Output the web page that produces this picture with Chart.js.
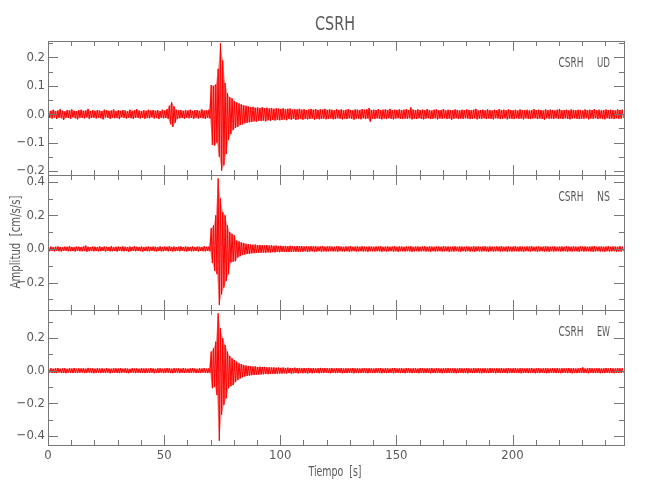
<!DOCTYPE html>
<html>
<head>
<meta charset="utf-8">
<script src="https://cdn.jsdelivr.net/npm/chart.js@4.4.1/dist/chart.umd.min.js"></script>
<style>
body { margin: 0; background: #fff; }
#wrap { position: relative; width: 650px; height: 500px; }
#wrap canvas { position: absolute; left: 0; top: 0; }
</style>
</head>
<body>
<div id="wrap">
<canvas id="chart0" width="650" height="500"></canvas>
<canvas id="chart1" width="650" height="500"></canvas>
<canvas id="chart2" width="650" height="500"></canvas>
</div>
<script>
const station = "CSRH";
const components = ["UD", "NS", "EW"];
const xMax = 248;
const xTickValues = [0, 50, 100, 150, 200];

// peak up / peak down of each 1 s slice of the trace
const udMax = [
  .014,.012,.016,.011,.013,.018,.012,.010,.015,.013,.017,.012,.011,.014,.016,.012,.013,.019,.011,.014,
  .012,.015,.013,.011,.016,.014,.012,.013,.017,.011,.014,.012,.015,.013,.010,.016,.012,.014,.018,.013,
  .011,.014,.012,.016,.013,.015,.012,.014,.011,.016,.013,.018,.030,.042,.028,.016,.013,.015,.012,.014,
  .013,.016,.012,.014,.015,.012,.017,.013,.014,.016,.103,.100,.105,.160,.250,.190,.110,.074,.060,.056,
  .046,.042,.038,.034,.031,.030,.027,.025,.026,.023,.024,.022,.025,.021,.023,.020,.022,.019,.021,.020,
  .018,.021,.017,.019,.020,.016,.018,.017,.019,.016,.018,.015,.017,.019,.016,.018,.015,.017,.016,.019,
  .015,.017,.016,.014,.018,.015,.017,.013,.016,.018,.015,.014,.017,.016,.015,.018,.016,.017,.022,.014,
  .016,.015,.018,.014,.016,.017,.015,.019,.014,.016,.015,.017,.014,.016,.018,.015,.024,.016,.014,.017,
  .015,.016,.014,.018,.015,.013,.016,.017,.014,.015,.018,.013,.016,.015,.014,.017,.015,.013,.016,.014,
  .017,.015,.014,.016,.019,.013,.015,.016,.014,.017,.015,.013,.016,.014,.018,.015,.016,.014,.017,.015,
  .014,.016,.013,.017,.015,.014,.016,.013,.015,.018,.014,.016,.015,.013,.017,.014,.016,.015,.013,.016,
  .018,.014,.015,.016,.013,.017,.015,.014,.016,.015,.013,.017,.014,.016,.015,.018,.014,.016,.013,.015,
  .017,.014,.016,.015,.013,.017,.015,.016
];
const udMin = [
  -.013,-.015,-.011,-.017,-.012,-.014,-.020,-.012,-.013,-.016,-.011,-.014,-.018,-.012,-.013,-.015,-.011,-.016,-.013,-.012,
  -.015,-.012,-.014,-.018,-.011,-.013,-.016,-.012,-.014,-.013,-.017,-.011,-.013,-.015,-.012,-.014,-.016,-.012,-.013,-.015,
  -.012,-.016,-.013,-.014,-.011,-.015,-.013,-.017,-.012,-.014,-.013,-.016,-.035,-.045,-.030,-.017,-.014,-.013,-.016,-.012,
  -.014,-.013,-.016,-.012,-.015,-.013,-.014,-.016,-.012,-.015,-.108,-.110,-.100,-.150,-.199,-.180,-.140,-.090,-.070,-.055,
  -.048,-.044,-.038,-.036,-.032,-.030,-.028,-.027,-.025,-.026,-.023,-.024,-.022,-.025,-.021,-.023,-.020,-.022,-.019,-.021,
  -.020,-.018,-.021,-.017,-.019,-.016,-.020,-.018,-.017,-.019,-.016,-.018,-.017,-.015,-.019,-.016,-.018,-.017,-.015,-.018,
  -.016,-.015,-.018,-.017,-.014,-.016,-.018,-.015,-.017,-.014,-.016,-.019,-.015,-.016,-.018,-.014,-.017,-.015,-.026,-.016,
  -.017,-.014,-.016,-.018,-.015,-.017,-.014,-.016,-.018,-.015,-.014,-.016,-.017,-.015,-.016,-.014,-.018,-.015,-.017,-.014,
  -.016,-.018,-.015,-.014,-.017,-.016,-.014,-.018,-.015,-.016,-.014,-.017,-.015,-.019,-.016,-.014,-.017,-.015,-.016,-.014,
  -.015,-.017,-.016,-.014,-.018,-.015,-.016,-.014,-.017,-.015,-.016,-.018,-.014,-.015,-.017,-.016,-.014,-.018,-.015,-.016,
  -.017,-.014,-.016,-.015,-.018,-.014,-.016,-.017,-.015,-.014,-.017,-.015,-.016,-.019,-.014,-.016,-.015,-.017,-.014,-.016,
  -.015,-.017,-.014,-.016,-.018,-.015,-.014,-.016,-.017,-.015,-.016,-.014,-.018,-.015,-.016,-.014,-.017,-.015,-.016,-.018,
  -.014,-.016,-.015,-.017,-.014,-.016,-.015,-.013
];
const nsMax = [
  .012,.014,.011,.013,.015,.012,.010,.014,.013,.016,.012,.011,.014,.013,.012,.015,.020,.013,.011,.014,
  .013,.012,.015,.011,.014,.013,.012,.016,.011,.013,.014,.012,.015,.013,.011,.014,.012,.016,.013,.012,
  .014,.011,.013,.015,.012,.014,.013,.011,.015,.012,.014,.013,.016,.012,.014,.011,.013,.015,.012,.014,
  .013,.012,.015,.011,.014,.013,.012,.016,.013,.014,.124,.140,.200,.420,.300,.220,.200,.140,.100,.090,
  .080,.050,.045,.038,.035,.031,.028,.027,.025,.026,.023,.024,.022,.021,.023,.020,.021,.019,.020,.018,
  .019,.017,.018,.016,.019,.017,.015,.018,.016,.017,.015,.016,.014,.017,.015,.016,.014,.015,.017,.014,
  .015,.016,.014,.013,.015,.016,.014,.013,.015,.014,.016,.013,.014,.015,.013,.016,.014,.013,.015,.014,
  .013,.015,.014,.016,.013,.014,.015,.013,.014,.016,.013,.015,.014,.013,.015,.014,.016,.013,.014,.015,
  .013,.014,.016,.013,.015,.014,.013,.015,.014,.013,.016,.014,.015,.013,.014,.016,.013,.015,.014,.013,
  .015,.014,.013,.016,.014,.015,.013,.014,.016,.013,.015,.014,.013,.015,.014,.016,.013,.014,.015,.013,
  .014,.016,.013,.015,.014,.013,.015,.014,.016,.013,.014,.015,.013,.014,.016,.015,.013,.014,.015,.013,
  .014,.015,.013,.016,.014,.013,.015,.014,.013,.016,.014,.015,.013,.014,.015,.017,.013,.014,.015,.013,
  .014,.016,.013,.015,.014,.013,.016,.014
];
const nsMin = [
  -.013,-.011,-.014,-.012,-.013,-.015,-.012,-.011,-.014,-.013,-.012,-.015,-.011,-.013,-.014,-.012,-.016,-.013,-.012,-.014,
  -.012,-.014,-.013,-.011,-.015,-.012,-.014,-.013,-.012,-.015,-.011,-.013,-.014,-.012,-.016,-.013,-.011,-.014,-.012,-.013,
  -.015,-.012,-.013,-.014,-.011,-.013,-.015,-.012,-.014,-.013,-.011,-.014,-.012,-.015,-.013,-.012,-.014,-.011,-.013,-.015,
  -.012,-.014,-.013,-.011,-.015,-.012,-.013,-.014,-.012,-.013,-.083,-.130,-.150,-.334,-.270,-.230,-.190,-.150,-.080,-.075,
  -.073,-.050,-.043,-.036,-.033,-.030,-.028,-.026,-.025,-.024,-.023,-.022,-.021,-.022,-.020,-.021,-.019,-.020,-.018,-.019,
  -.017,-.018,-.016,-.018,-.017,-.015,-.017,-.016,-.015,-.017,-.014,-.016,-.015,-.014,-.016,-.015,-.013,-.016,-.014,-.015,
  -.014,-.013,-.015,-.014,-.016,-.013,-.014,-.015,-.013,-.016,-.014,-.013,-.015,-.014,-.013,-.015,-.014,-.016,-.013,-.014,
  -.015,-.013,-.014,-.016,-.013,-.015,-.014,-.013,-.015,-.014,-.016,-.013,-.014,-.015,-.013,-.014,-.016,-.014,-.013,-.015,
  -.014,-.013,-.015,-.014,-.016,-.013,-.015,-.014,-.013,-.015,-.014,-.013,-.016,-.014,-.015,-.013,-.014,-.016,-.013,-.015,
  -.013,-.015,-.014,-.016,-.013,-.014,-.015,-.013,-.014,-.016,-.013,-.015,-.014,-.013,-.015,-.014,-.013,-.016,-.014,-.015,
  -.014,-.013,-.015,-.014,-.016,-.013,-.014,-.015,-.013,-.014,-.016,-.014,-.013,-.015,-.014,-.016,-.013,-.015,-.014,-.013,
  -.015,-.014,-.013,-.016,-.014,-.015,-.013,-.014,-.016,-.013,-.015,-.014,-.013,-.015,-.016,-.014,-.013,-.015,-.014,-.016,
  -.013,-.015,-.014,-.013,-.016,-.014,-.015,-.013
];
const ewMax = [
  .013,.015,.012,.014,.016,.012,.013,.015,.011,.014,.013,.016,.012,.014,.013,.015,.012,.017,.013,.014,
  .012,.015,.013,.014,.011,.016,.013,.012,.015,.014,.013,.016,.012,.014,.013,.011,.015,.013,.014,.012,
  .015,.013,.014,.012,.016,.013,.011,.014,.015,.012,.013,.016,.014,.012,.015,.013,.014,.012,.016,.013,
  .012,.014,.015,.013,.011,.014,.013,.016,.012,.014,.117,.137,.178,.352,.260,.200,.157,.117,.090,.076,
  .065,.055,.045,.040,.035,.031,.029,.027,.025,.026,.023,.024,.022,.023,.020,.021,.019,.020,.018,.019,
  .017,.019,.016,.018,.017,.015,.018,.016,.017,.015,.016,.014,.017,.015,.016,.014,.015,.017,.014,.016,
  .015,.014,.016,.013,.015,.014,.016,.013,.015,.014,.013,.016,.014,.015,.013,.014,.016,.013,.015,.014,
  .013,.015,.014,.016,.013,.015,.014,.013,.015,.016,.013,.014,.015,.013,.016,.014,.013,.015,.014,.013,
  .016,.014,.013,.015,.014,.016,.013,.015,.014,.013,.015,.014,.016,.013,.014,.015,.013,.016,.014,.013,
  .015,.014,.013,.016,.014,.015,.013,.014,.015,.013,.016,.014,.013,.015,.014,.016,.013,.014,.015,.013,
  .014,.016,.013,.015,.014,.013,.015,.014,.016,.013,.014,.015,.013,.014,.016,.014,.013,.015,.014,.016,
  .013,.015,.014,.013,.016,.014,.015,.013,.014,.015,.020,.013,.014,.016,.015,.013,.014,.015,.013,.014,
  .016,.013,.015,.014,.013,.016,.014,.015
];
const ewMin = [
  -.012,-.014,-.013,-.015,-.011,-.014,-.013,-.016,-.012,-.013,-.015,-.012,-.014,-.013,-.011,-.015,-.013,-.012,-.014,-.016,
  -.013,-.012,-.015,-.013,-.014,-.012,-.016,-.013,-.012,-.014,-.015,-.013,-.012,-.014,-.016,-.013,-.012,-.015,-.013,-.014,
  -.012,-.015,-.013,-.014,-.012,-.016,-.013,-.014,-.012,-.015,-.013,-.012,-.014,-.016,-.013,-.012,-.015,-.013,-.014,-.012,
  -.014,-.013,-.012,-.015,-.013,-.014,-.012,-.013,-.015,-.013,-.108,-.100,-.150,-.430,-.270,-.210,-.170,-.108,-.095,-.088,
  -.070,-.057,-.048,-.040,-.036,-.032,-.030,-.028,-.026,-.025,-.024,-.023,-.022,-.021,-.022,-.020,-.019,-.020,-.018,-.017,
  -.018,-.016,-.017,-.015,-.018,-.016,-.015,-.017,-.014,-.016,-.015,-.017,-.014,-.016,-.015,-.013,-.016,-.014,-.015,-.013,
  -.014,-.016,-.013,-.015,-.014,-.013,-.016,-.014,-.015,-.013,-.014,-.016,-.013,-.015,-.014,-.013,-.015,-.016,-.013,-.014,
  -.015,-.013,-.014,-.016,-.013,-.015,-.014,-.013,-.016,-.014,-.013,-.015,-.014,-.016,-.013,-.014,-.015,-.013,-.014,-.016,
  -.013,-.015,-.014,-.013,-.016,-.014,-.015,-.013,-.014,-.016,-.013,-.015,-.014,-.013,-.015,-.016,-.014,-.013,-.015,-.014,
  -.016,-.013,-.015,-.014,-.013,-.015,-.016,-.014,-.013,-.015,-.014,-.013,-.016,-.014,-.015,-.013,-.014,-.016,-.013,-.015,
  -.014,-.013,-.015,-.016,-.014,-.013,-.015,-.014,-.013,-.016,-.014,-.015,-.013,-.014,-.016,-.015,-.013,-.014,-.015,-.013,
  -.016,-.014,-.013,-.015,-.014,-.016,-.013,-.015,-.014,-.013,-.015,-.014,-.016,-.013,-.015,-.014,-.013,-.016,-.014,-.015,
  -.013,-.015,-.014,-.016,-.013,-.015,-.014,-.013
];

const yLimits = [[-0.214, 0.258], [-0.363, 0.44], [-0.456, 0.372]];
const yMajor = [0.1, 0.2, 0.2];
const yMinor = [0.05, 0.1, 0.1];
const xMajor = 50, xMinor = 10;

const FONT = "'Liberation Sans Narrow', 'DejaVu Sans Condensed', sans-serif";
const GREY = "#5a5a5a";
Chart.defaults.font.family = FONT;
Chart.defaults.color = GREY;

// panel box top/bottom in page pixels
const panelTop = [41, 175, 310];
const panelBottom = [175, 310, 445];

function trace(hi, lo) {
  let pts = [];
  for (let i = 0; i < hi.length; i++) {
    pts.push({ x: i + 0.25, y: hi[i] });
    pts.push({ x: i + 0.75, y: lo[i] });
  }
  return pts;
}

function edge(arr, off) {
  return arr.map((v, i) => ({ x: i + off, y: v }));
}

function fmtY(v) {
  let r = Math.round(v * 10) / 10;
  return (r < 0 ? "\u2212" : "") + Math.abs(r).toFixed(1);
}

// box, inward ticks and free text
const frame = {
  id: "frame",
  afterDatasetsDraw(chart, args, opts) {
    const c = chart.ctx, a = chart.chartArea;
    const xs = chart.scales.x, ys = chart.scales.y;
    c.save();
    c.strokeStyle = "#777";
    c.lineWidth = 1;
    c.strokeRect(a.left + 0.5, a.top + 0.5, a.right - a.left, a.bottom - a.top);
    c.beginPath();
    for (let v = 0; v <= xs.max + 1e-9; v += xMinor) {
      let px = Math.round(xs.getPixelForValue(v)) + 0.5;
      let len = v % xMajor === 0 ? 10 : 5;
      c.moveTo(px, a.top); c.lineTo(px, a.top + len);
      c.moveTo(px, a.bottom); c.lineTo(px, a.bottom - len);
    }
    let first = Math.ceil(ys.min / opts.minor - 1e-6);
    let last = Math.floor(ys.max / opts.minor + 1e-6);
    for (let k = first; k <= last; k++) {
      let v = k * opts.minor;
      let py = Math.round(ys.getPixelForValue(v)) + 0.5;
      let q = v / opts.major;
      let len = Math.abs(q - Math.round(q)) < 1e-6 ? 10 : 5;
      c.moveTo(a.left, py); c.lineTo(a.left + len, py);
      c.moveTo(a.right, py); c.lineTo(a.right - len, py);
    }
    c.stroke();
    c.fillStyle = GREY;
    c.textBaseline = "alphabetic";
    for (const t of opts.texts) {
      c.save();
      c.font = t.size + "px " + FONT;
      c.textAlign = t.align || "left";
      c.translate(t.x, t.y);
      if (t.rotate) c.rotate(t.rotate);
      c.fillText(t.text, 0, 0, t.width);
      c.restore();
    }
    c.restore();
  }
};

function makePanel(i, hi, lo, texts) {
  const last = i === 2;
  const ctx = document.getElementById("chart" + i).getContext("2d");
  return new Chart(ctx, {
    type: "line",
    data: {
      datasets: [
        {
          data: trace(hi, lo),
          borderColor: "#ff0000",
          borderWidth: 1,
          pointRadius: 0,
          fill: false,
          tension: 0
        },
        {
          // upper envelope, shaded down to the lower one
          data: edge(hi, 0.25),
          borderWidth: 0,
          pointRadius: 0,
          backgroundColor: "rgba(255, 0, 0, 0.45)",
          fill: "+1"
        },
        {
          data: edge(lo, 0.75),
          borderWidth: 0,
          pointRadius: 0,
          fill: false
        }
      ]
    },
    options: {
      responsive: false,
      animation: false,
      events: [],
      layout: {
        autoPadding: false,
        padding: { left: 0, right: 26, top: panelTop[i], bottom: last ? 500 - panelBottom[i] - 22 : 500 - panelBottom[i] }
      },
      scales: {
        x: {
          type: "linear",
          min: 0,
          max: xMax,
          display: last,
          grid: { display: false, drawTicks: false },
          border: { display: false },
          ticks: {
            padding: 3,
            font: { size: 13 },
            callback: v => String(Math.round(v))
          },
          afterBuildTicks: s => { s.ticks = xTickValues.map(v => ({ value: v })); },
          afterFit: s => { s.height = last ? 22 : 0; }
        },
        y: {
          min: yLimits[i][0],
          max: yLimits[i][1],
          grid: { display: false, drawTicks: false },
          border: { display: false },
          ticks: {
            stepSize: yMajor[i],
            includeBounds: false,
            padding: 3,
            font: { size: 13 },
            callback: fmtY
          },
          afterFit: s => { s.width = 48; }
        }
      },
      plugins: {
        legend: { display: false },
        tooltip: { enabled: false },
        frame: { major: yMajor[i], minor: yMinor[i], texts: texts }
      }
    },
    plugins: [frame]
  });
}

function panelLabel(i) {
  let base = panelTop[i] + 25.5;
  return [
    { text: station, x: 558.5, y: base, size: 14, width: 25 },
    { text: components[i], x: 597, y: base, size: 14, width: 13 }
  ];
}

let chart0 = makePanel(0, udMax, udMin, panelLabel(0).concat([
  { text: station, x: 335, y: 29.5, size: 20, width: 40, align: "center" }
]));
let chart1 = makePanel(1, nsMax, nsMin, panelLabel(1).concat([
  { text: "Amplitud  [cm/s/s]", x: 19.5, y: 242, size: 14, width: 93, align: "center", rotate: -Math.PI / 2 }
]));
let chart2 = makePanel(2, ewMax, ewMin, panelLabel(2).concat([
  { text: "Tiempo  [s]", x: 335, y: 476, size: 14, width: 53, align: "center" }
]));
</script>
</body>
</html>
